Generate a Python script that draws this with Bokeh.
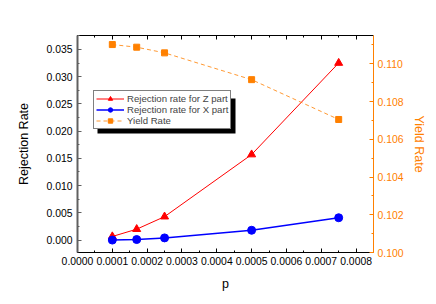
from bokeh.plotting import figure
from bokeh.models import (Range1d, LinearAxis, NumeralTickFormatter, Legend, LegendItem,
                          SingleIntervalTicker, BoxAnnotation)
from bokeh.embed import file_html
from bokeh.resources import INLINE

p_vals = [0.0001, 0.00017, 0.00025, 0.0005, 0.00075]
rej_z = [0.00066, 0.0020, 0.0043, 0.0157, 0.0325]
rej_x = [0.0000, 0.0001, 0.0004, 0.0018, 0.0041]
yield_rate = [0.11102, 0.11088, 0.11058, 0.10916, 0.10705]

FONT = "Liberation Sans"
ORANGE = "#FF8000"

p = figure(width=428, height=296, output_backend="svg", toolbar_location=None,
           x_range=Range1d(0.0, 0.00085), y_range=Range1d(-0.00228, 0.03755),
           min_border_left=77, min_border_right=53, min_border_top=35, min_border_bottom=44)
p.outline_line_color = None
p.xgrid.visible = False
p.ygrid.visible = False
p.extra_y_ranges = {"yield": Range1d(0.100, 0.1115)}

def style_axis(ax, color="black", line_color="black"):
    ax.major_tick_in = 4
    ax.major_tick_out = 0
    ax.minor_tick_in = 2
    ax.minor_tick_out = 0
    ax.axis_line_color = line_color
    ax.major_tick_line_color = line_color
    ax.minor_tick_line_color = line_color
    ax.major_label_text_font = FONT
    ax.major_label_text_font_size = "10.4px"
    ax.major_label_text_color = color
    ax.axis_label_text_font = FONT
    ax.axis_label_text_font_style = "normal"
    ax.axis_label_text_font_size = "12.5px"
    ax.axis_label_text_color = color

# bottom x axis
xa = p.xaxis[0]
xa.ticker = SingleIntervalTicker(interval=0.0001, num_minor_ticks=2)
xa.formatter = NumeralTickFormatter(format="0.0000")
xa.axis_label = "p"
style_axis(xa)
xa.major_label_standoff = 4
xa.axis_label_standoff = 9

# left y axis
ya = p.yaxis[0]
ya.ticker = SingleIntervalTicker(interval=0.005, num_minor_ticks=2)
ya.formatter = NumeralTickFormatter(format="0.000")
ya.axis_label = "Rejection Rate"
style_axis(ya, line_color="#606060")
ya.axis_line_width = 2
ya.major_label_standoff = 5
ya.axis_label_standoff = 12

# right y axis
ra = LinearAxis(y_range_name="yield", axis_label="Yield Rate",
                ticker=SingleIntervalTicker(interval=0.002, num_minor_ticks=2),
                formatter=NumeralTickFormatter(format="0.000"))
style_axis(ra, color=ORANGE, line_color=ORANGE)
ra.major_label_standoff = 4
ra.axis_label_standoff = 5
p.add_layout(ra, "right")

# top axis (ticks only)
ta = LinearAxis(ticker=SingleIntervalTicker(interval=0.0001, num_minor_ticks=2))
style_axis(ta)
ta.major_label_text_color = None
ta.major_label_text_font_size = "1px"
p.add_layout(ta, "above")

# data
lz = p.line(p_vals, rej_z, line_color="red", line_width=1)
mz = p.scatter(p_vals, rej_z, marker="triangle", size=8, color="red")
lx = p.line(p_vals, rej_x, line_color="blue", line_width=1.5)
mx = p.scatter(p_vals, rej_x, marker="circle", size=8, color="blue")
ly = p.line(p_vals, yield_rate, line_color=ORANGE, line_width=1, line_dash="4 3",
            line_alpha=0.8, y_range_name="yield")
my = p.scatter(p_vals, yield_rate, marker="square", size=6, color=ORANGE,
               y_range_name="yield")

# legend drop shadow
shadow = BoxAnnotation(left=20, right=158, bottom=119, top=154,
                       left_units="screen", right_units="screen",
                       bottom_units="screen", top_units="screen",
                       fill_color="black", fill_alpha=1, line_color=None)
p.add_layout(shadow)

legend = Legend(items=[
    LegendItem(label="Rejection rate for Z part", renderers=[lz, mz]),
    LegendItem(label="Rejection rate for X part", renderers=[lx, mx]),
    LegendItem(label="Yield Rate", renderers=[ly, my]),
], location=(16, 123))
legend.label_text_font = FONT
legend.label_text_font_size = "9.6px"
legend.label_height = 11
legend.glyph_height = 11
legend.glyph_width = 28
legend.spacing = 0
legend.padding = 2
legend.margin = 0
legend.label_standoff = 3
legend.border_line_color = "black"
legend.border_line_width = 1
legend.background_fill_alpha = 1
p.add_layout(legend, "center")

open("out.html", "w").write(file_html(p, INLINE))
